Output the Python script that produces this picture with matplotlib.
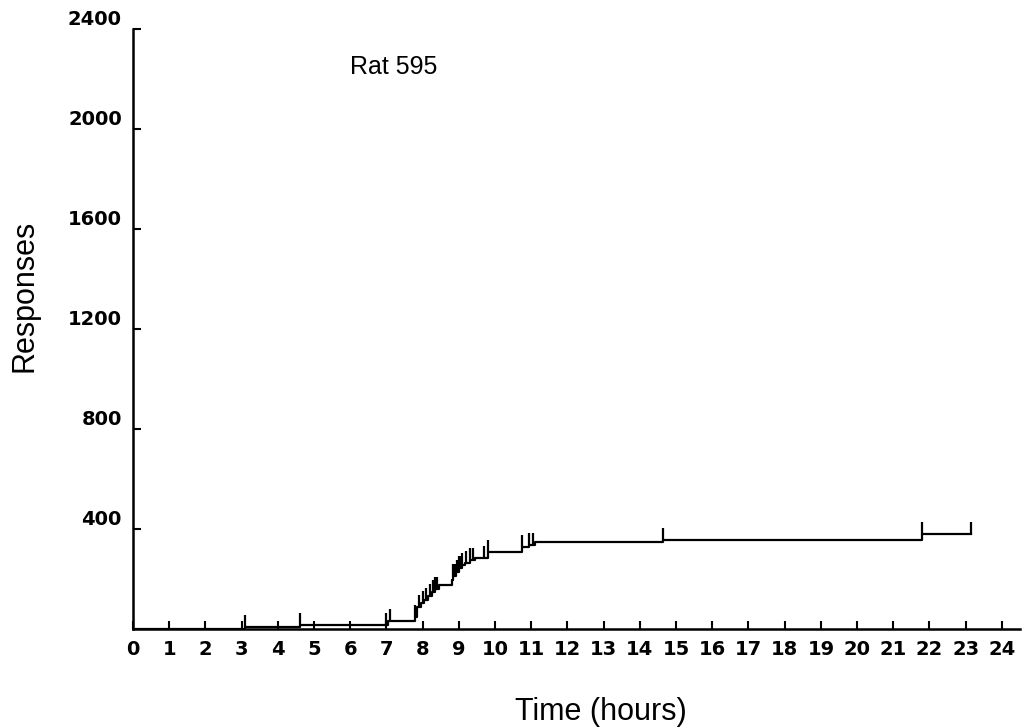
import matplotlib
matplotlib.use('Agg')
import matplotlib.pyplot as plt
import numpy as np

# cumulative record, Rat 595
step_hours = [0, 3.1, 4.6, 7.05, 7.8, 7.85, 7.95, 8.05, 8.15, 8.25, 8.35, 8.45,
              8.8, 8.85, 8.92, 9.0, 9.08, 9.18, 9.3, 9.45, 9.8, 10.75, 10.95,
              11.1, 14.65, 21.8, 23.15]
step_counts = [0, 8, 16, 32, 50, 90, 105, 118, 132, 148, 162, 176,
               196, 214, 230, 244, 256, 266, 276, 284, 308, 328, 338,
               348, 356, 380, 380]
pip_hours = [0, 3.1, 4.6, 7.0, 7.1, 7.8, 7.9, 8.0, 8.1, 8.2, 8.3, 8.35, 8.4,
             8.85, 8.9, 8.95, 9.0, 9.05, 9.1, 9.2, 9.3, 9.4, 9.7, 9.8,
             10.75, 10.95, 11.05, 14.65, 21.8, 23.15]

x_ticks = list(range(0, 25))
y_ticks = [400, 800, 1200, 1600, 2000, 2400]

PIP_H = 48

fig = plt.figure(figsize=(10.32, 7.27), dpi=100)
ax = fig.add_axes([133 / 1032, 98 / 727, 887 / 1032, 600 / 727])

ax.step(step_hours, step_counts, where='post', color='black', lw=1.6)
idx = np.searchsorted(step_hours, pip_hours, side='right') - 1
bottoms = np.array(step_counts)[idx]
ax.vlines(pip_hours, bottoms, bottoms + PIP_H, color='black', lw=1.6)

ax.set_xlim(0, 24.5)
ax.set_ylim(0, 2400)
ax.set_xticks(x_ticks)
ax.set_yticks(y_ticks)
ax.tick_params(direction='in', width=1.5, length=6, labelsize=14, pad=8)
for lab in ax.get_xticklabels() + ax.get_yticklabels():
    lab.set_fontweight('bold')
for lab in ax.get_yticklabels():
    lab.set_verticalalignment('bottom')

ax.spines[['top', 'right']].set_visible(False)
for s in ('left', 'bottom'):
    ax.spines[s].set_linewidth(1.8)

ax.text(6.0, 2250, 'Rat 595', fontsize=18, family='Liberation Sans',
        ha='left', va='center')
fig.text(25 / 1032, 1 - 296 / 727, 'Responses', rotation=90, fontsize=22,
         family='Liberation Sans', ha='center', va='center')
fig.text(601 / 1032, 1 - 712 / 727, 'Time (hours)', fontsize=22,
         family='Liberation Sans', ha='center', va='center')

fig.savefig('out.png', dpi=100)
